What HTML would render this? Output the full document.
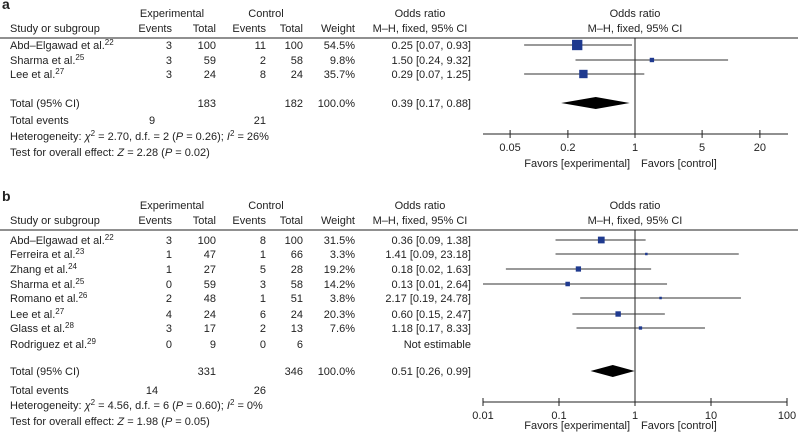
<!DOCTYPE html>
<html><head><meta charset="utf-8"><style>
body{margin:0;background:#fff}
svg{display:block;font-family:"Liberation Sans",Arial,sans-serif;font-size:11px;fill:#222}
</style></head><body>
<svg id="c" width="798" height="441" viewBox="0 0 798 441" xmlns="http://www.w3.org/2000/svg"></svg>
<script>
// Panel a data
const aStudies=["Abd–Elgawad et al.|22","Sharma et al.|25","Lee et al.|27"];
const aExpEvents=[3,3,3], aExpTotal=[100,59,24], aCtlEvents=[11,2,8], aCtlTotal=[100,58,24];
const aWeight=["54.5%","9.8%","35.7%"];
const aOR=[0.25,1.50,0.29], aLo=[0.07,0.24,0.07], aHi=[0.93,9.32,1.25];
const aORText=["0.25 [0.07, 0.93]","1.50 [0.24, 9.32]","0.29 [0.07, 1.25]"];
const aMarkerW=[54.5,9.8,35.7];
const aTotal=[0.39,0.17,0.88];
const aTicks=[0.05,0.2,1,5,20];
const aTickLabels=["0.05","0.2","1","5","20"];
// Panel b data
const bStudies=["Abd–Elgawad et al.|22","Ferreira et al.|23","Zhang et al.|24","Sharma et al.|25","Romano et al.|26","Lee et al.|27","Glass et al.|28","Rodriguez et al.|29"];
const bExpEvents=[3,1,1,0,2,4,3,0], bExpTotal=[100,47,27,59,48,24,17,9], bCtlEvents=[8,1,5,3,1,6,2,0], bCtlTotal=[100,66,28,58,51,24,13,6];
const bWeight=["31.5%","3.3%","19.2%","14.2%","3.8%","20.3%","7.6%",""];
const bOR=[0.36,1.41,0.18,0.13,2.17,0.60,1.18,null], bLo=[0.09,0.09,0.02,0.01,0.19,0.15,0.17,null], bHi=[1.38,23.18,1.63,2.64,24.78,2.47,8.33,null];
const bORText=["0.36 [0.09, 1.38]","1.41 [0.09, 23.18]","0.18 [0.02, 1.63]","0.13 [0.01, 2.64]","2.17 [0.19, 24.78]","0.60 [0.15, 2.47]","1.18 [0.17, 8.33]","Not estimable"];
const bMarkerW=[31.5,3.3,19.2,14.2,3.8,20.3,7.6,0];
const bTotal=[0.51,0.26,0.99];
const bTicks=[0.01,0.1,1,10,100];
const bTickLabels=["0.01","0.1","1","10","100"];

const svg=document.getElementById('c');const NS="http://www.w3.org/2000/svg";
function el(tag,attrs,txt){const e=document.createElementNS(NS,tag);for(const k in attrs)e.setAttribute(k,attrs[k]);if(txt!==undefined)e.textContent=txt;svg.appendChild(e);return e;}
function T(x,y,s,anchor,name,extra){const e=el('text',Object.assign({x:x,y:y+4,'text-anchor':anchor||'start'},extra||{}),s);

return e;}
function L(x1,y1,x2,y2,name,col,w){const e=el('line',{x1,y1,x2,y2,stroke:col||'#222','stroke-width':w||1});

return e;}

function panel(cfg){
 const {letter,top,studies,ee,et,ce,ct,wt,or,lo,hi,ort,mw,tot,ticks,tl,pxDec,rowY,totY,totExp,totCtl,totEv,het,test,axisY,xmin,xmax,wscale,tickDy,favY}=cfg;
 const xs=v=>635+Math.log10(v)*pxDec;
 T(2,top,letter,'start','panel-label-'+letter,{'font-weight':'bold','font-size':'14'});
 T(172,top+8,"Experimental",'middle','experimental-header');
 T(266,top+8,"Control",'middle','control-header');
 T(10,top+23,"Study or subgroup",'start','study-header');
 T(172,top+23,"Events",'end','exp-events-header');T(216,top+23,"Total",'end','exp-total-header');
 T(266,top+23,"Events",'end','ctl-events-header');T(303,top+23,"Total",'end','ctl-total-header');
 T(355,top+23,"Weight",'end','weight-header');
 T(420,top+8,"Odds ratio",'middle','or-header');T(420,top+23,"M–H, fixed, 95% CI",'middle','or-method-header');
 T(635,top+8,"Odds ratio",'middle','plot-header');T(635,top+23,"M–H, fixed, 95% CI",'middle','plot-method-header');
 L(0,top+33,798,top+33,'header-rule');
 L(635,top+33,635,axisY,'null-line');
 studies.forEach((s,i)=>{const y=rowY[i];const p=s.split('|');
  const e=T(10,y,p[0],'start','study-name');const sp=document.createElementNS(NS,'tspan');sp.setAttribute('dy','-4');sp.setAttribute('font-size','8');sp.textContent=p[1];e.appendChild(sp);
  T(172,y,ee[i],'end','exp-events');T(216,y,et[i],'end','exp-total');T(266,y,ce[i],'end','ctl-events');T(303,y,ct[i],'end','ctl-total');
  T(355,y,wt[i],'end','weight');T(471,y,ort[i],'end','odds-ratio-ci');
  if(or[i]!=null){const x1=Math.max(xs(lo[i]),xmin);L(x1,y,xs(hi[i]),y,'ci-line','#333');
   if(xs(lo[i])<xmin){const a=el('path',{d:`M${xmin} ${y} l5 -3 v6 z`,fill:'#111'});}
   const w=Math.max(2.5,Math.sqrt(mw[i])*wscale);const r=el('rect',{x:xs(or[i])-w/2,y:y-w/2,width:w,height:w,fill:'#1f3a8f'});
   
   }
 });
 T(10,totY,"Total (95% CI)",'start','total-label');T(216,totY,totExp,'end','total-exp');T(303,totY,totCtl,'end','total-ctl');
 T(355,totY,"100.0%",'end','total-weight');T(471,totY,`${tot[0].toFixed(2)} [${tot[1].toFixed(2)}, ${tot[2].toFixed(2)}]`,'end','total-or');
 const d=el('path',{d:`M${xs(tot[1])} ${totY} L${xs(tot[0])} ${totY-6} L${xs(tot[2])} ${totY} L${xs(tot[0])} ${totY+6} Z`,fill:'#000'});
 
 
 T(10,totEv[0],"Total events",'start','total-events-label');T(152,totEv[0],totEv[1],'middle','total-exp-events');T(266,totEv[0],totEv[2],'end','total-ctl-events');
 const h=T(10,het[0],"",'start','heterogeneity');
 h.innerHTML=`Heterogeneity: <tspan font-style="italic">χ</tspan><tspan dy="-4" font-size="8">2</tspan><tspan dy="4"> = ${het[1]}, d.f. = ${het[2]} (</tspan><tspan font-style="italic">P</tspan> = ${het[3]}); <tspan font-style="italic">I</tspan><tspan dy="-4" font-size="8">2</tspan><tspan dy="4"> = ${het[4]}</tspan>`;
 const te=T(10,test[0],"",'start','overall-effect');
 te.innerHTML=`Test for overall effect: <tspan font-style="italic">Z</tspan> = ${test[1]} (<tspan font-style="italic">P</tspan> = ${test[2]})`;
 L(xmin,axisY,xmax,axisY,'x-axis');
 ticks.forEach((v,i)=>{L(xs(v),axisY-4,xs(v),axisY+4,'x-tick');T(xs(v),axisY+tickDy,tl[i],'middle','x-tick-label');});
 T(630,favY,"Favors [experimental]",'end','favors-experimental');T(641,favY,"Favors [control]",'start','favors-control');
}
panel({letter:'a',top:5,studies:aStudies,ee:aExpEvents,et:aExpTotal,ce:aCtlEvents,ct:aCtlTotal,wt:aWeight,or:aOR,lo:aLo,hi:aHi,ort:aORText,mw:aMarkerW,tot:aTotal,ticks:aTicks,tl:aTickLabels,pxDec:96,rowY:[45,60,74],totY:103,totExp:183,totCtl:182,totEv:[120,9,21],het:[136,"2.70",2,"0.26","26%"],test:[152,"2.28","0.02"],axisY:134,xmin:483,xmax:788,wscale:1.4,tickDy:13,favY:163});
panel({letter:'b',top:197,studies:bStudies,ee:bExpEvents,et:bExpTotal,ce:bCtlEvents,ct:bCtlTotal,wt:bWeight,or:bOR,lo:bLo,hi:bHi,ort:bORText,mw:bMarkerW,tot:bTotal,ticks:bTicks,tl:bTickLabels,pxDec:76,rowY:[240,254,269,284,298,314,328,344],totY:371,totExp:331,totCtl:346,totEv:[390,14,26],het:[405,"4.56",6,"0.60","0%"],test:[421,"1.98","0.05"],axisY:402,xmin:483,xmax:787,wscale:1.2,tickDy:13,favY:425});
</script>
</body></html>
